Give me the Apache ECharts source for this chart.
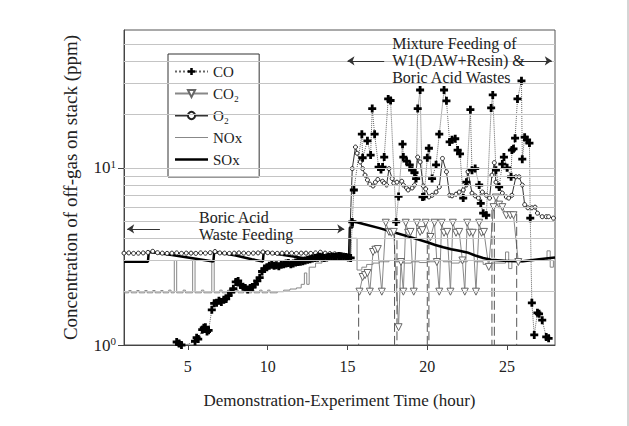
<!DOCTYPE html>
<html>
<head>
<meta charset="utf-8">
<script src="https://cdn.jsdelivr.net/npm/echarts@6/dist/echarts.min.js"></script>
<style>
html, body { margin: 0; padding: 0; background: #fff; }
#offgas_echarts { width: 629px; height: 426px; }
</style>
</head>
<body>
<div id="offgas_echarts"></div>
<script>
// [hour, ppm]
var coData = [
  [4.3,1.04],[4.45,1.02],[4.6,1.0],[4.75,0.99],
  [5.45,1.05],[5.55,1.1],[5.65,1.08],
  [5.9,1.22],[6.0,1.25],[6.1,1.26],[6.2,1.19],[6.3,1.21],
  [6.5,1.58],[6.65,1.72],[6.8,1.73],[6.95,1.78],[7.1,1.75],[7.25,1.8],[7.4,1.82],[7.55,1.9],
  [7.7,1.99],[7.85,2.08],[8.0,2.27],[8.15,2.3],[8.3,2.18],[8.45,2.13],[8.6,2.1],[8.75,2.06],
  [8.9,2.1],[9.05,2.12],[9.2,2.2],[9.35,2.3],[9.5,2.4],[9.65,2.6],[9.8,2.7],[9.95,2.75],
  [10.1,2.8],[10.25,2.84],[10.4,2.8],[10.55,2.82],[10.7,2.78],[10.85,2.84],[11.0,2.86],
  [11.15,2.88],[11.3,2.9],[11.45,2.86],[11.6,2.88],[11.75,2.92],[11.9,2.94],[12.05,2.95],
  [12.2,2.97],[12.35,3.0],[12.5,3.03],[12.65,3.05],[12.8,3.08],[12.95,3.1],[13.1,3.12],
  [13.25,3.15],[13.4,3.12],[13.55,3.1],[13.7,3.12],[13.85,3.14],[14.0,3.16],[14.15,3.14],
  [14.3,3.16],[14.45,3.18],[14.6,3.17],[14.75,3.15],[14.9,3.14],[15.05,3.12],[15.2,3.1],
  [15.3,4.95],[15.4,7.5],[15.9,15.5],[15.95,11.4],[16.25,14.2],[16.45,11.8],[16.55,21.6],
  [16.7,15.5],[16.95,10.1],[17.1,9.8],[17.2,10.1],[17.3,11.5],[17.55,24.5],[17.7,24.0],
  [18.05,4.95],[18.2,6.9],[18.45,13.6],[18.5,11.5],[18.7,10.9],[18.9,10.4],[19.05,9.7],
  [19.2,9.4],[19.3,8.7],[19.4,21.6],[19.55,27.5],[19.7,6.85],[19.8,6.9],[20.0,11.4],
  [20.1,12.9],[20.3,8.7],[20.55,10.4],[20.75,15.5],[21.05,27.5],[21.2,23.9],[21.4,14.0],
  [21.55,14.4],[21.75,14.6],[21.9,12.6],[22.05,12.0],[22.25,6.75],[22.45,8.3],[22.7,21.3],
  [22.8,9.7],[23.0,9.9],[23.25,8.0],[23.35,6.3],[23.5,5.55],[23.7,5.4],[24.0,21.8],
  [24.1,25.8],[24.3,9.7],[24.5,7.8],[24.7,10.5],[24.8,11.5],[25.0,10.0],[25.25,8.9],
  [25.3,12.6],[25.4,12.8],[25.5,14.7],[25.65,24.5],[25.9,31.0],[25.95,11.2],[26.1,14.9],
  [26.25,14.4],[26.4,13.8],[26.45,5.2],[26.55,1.73],[26.7,1.14],[26.9,1.52],[27.0,1.5],
  [27.2,1.38],[27.45,1.11],[27.6,1.09]
];

var co2Data = [
  [15.75,2.0],[15.95,2.42],[16.1,2.48],[16.25,2.55],[16.4,2.0],[16.6,3.35],[16.75,3.45],
  [16.9,3.48],[17.15,2.0],[17.4,4.9],[17.6,4.35],[17.75,4.3],[17.9,4.35],[18.2,1.26],
  [18.35,2.94],[18.5,2.0],[18.65,4.9],[18.8,4.3],[18.95,4.35],[19.15,2.0],[19.35,4.9],
  [19.55,4.35],[19.7,4.45],[19.9,4.9],[20.2,4.07],[20.45,4.9],[20.6,2.94],[20.75,2.0],
  [20.9,4.9],[21.05,4.3],[21.25,4.35],[21.45,2.0],[21.6,4.9],[21.8,4.3],[22.0,4.35],
  [22.2,3.0],[22.35,2.0],[22.5,4.9],[22.65,4.3],[22.85,4.3],[23.05,2.0],[23.25,4.9],
  [23.4,4.3],[23.55,4.35],[23.85,2.76],[24.15,6.0],[24.3,6.8],[24.5,6.2],[24.7,6.0],
  [24.95,5.4],[25.2,5.4],[25.4,5.4],[25.7,2.94]
];

// CO2 readings that fall off the bottom of the scale
var co2DropHours = [15.7, 17.95, 18.1, 20.0, 20.1, 24.05, 24.2, 25.6];
var co2DropFrom = [2.0, 4.35, 3.9, 4.35, 3.9, 5.8, 5.8, 5.5];
var co2DropTo = 0.5;

var o2Data = [
  [1.0,3.3],[1.3,3.31],[1.6,3.29],[1.9,3.3],[2.2,3.31],[2.5,3.33],[2.8,3.38],[3.1,3.32],
  [3.4,3.3],[3.7,3.29],[4.0,3.3],[4.3,3.31],[4.6,3.29],[4.9,3.3],[5.2,3.3],[5.5,3.29],
  [5.8,3.31],[6.1,3.3],[6.4,3.32],[6.7,3.37],[7.0,3.31],[7.3,3.3],[7.6,3.29],[7.9,3.3],
  [8.2,3.31],[8.5,3.3],[8.8,3.29],[9.1,3.3],[9.4,3.31],[9.7,3.35],[10.0,3.32],[10.3,3.3],
  [10.6,3.29],[10.9,3.3],[11.2,3.31],[11.5,3.3],[11.8,3.29],[12.1,3.3],[12.4,3.3],
  [12.7,3.29],[13.0,3.31],[13.3,3.34],[13.6,3.3],[13.9,3.28],[14.2,3.27],[14.5,3.24],
  [14.8,3.18],[15.1,3.14],
  [15.3,9.9],[15.5,13.1],[15.6,12.1],[15.8,10.8],[15.95,9.9],[16.1,9.1],[16.25,8.55],
  [16.4,8.1],[16.6,7.9],[16.75,8.3],[16.9,8.6],[17.2,8.4],[17.3,8.2],[17.45,8.0],
  [17.6,9.9],[17.8,8.7],[17.9,8.2],[18.1,8.3],[18.4,8.4],[18.5,8.0],[18.7,7.7],[18.8,7.5],
  [19.05,7.7],[19.2,8.0],[19.4,11.5],[19.55,10.8],[19.75,7.9],[19.9,7.6],[20.1,6.85],
  [20.3,7.0],[20.55,7.3],[20.75,7.8],[20.95,11.3],[21.2,9.5],[21.4,7.0],[21.55,6.95],
  [21.8,7.1],[22.0,7.3],[22.25,7.5],[22.45,8.0],[22.55,9.5],[22.8,7.2],[23.0,6.95],
  [23.2,6.75],[23.45,7.3],[23.7,7.0],[23.9,6.75],[24.05,9.1],[24.2,10.7],[24.3,8.3],
  [24.5,7.8],[24.7,7.2],[24.95,6.85],[25.1,6.75],[25.3,7.0],[25.55,8.9],[25.75,8.9],
  [25.95,8.0],[26.1,6.2],[26.3,5.95],[26.55,5.95],[26.75,6.0],[26.9,5.55],[27.2,5.3],
  [27.45,5.3],[27.6,5.3],[27.9,5.2]
];

// step line: each value holds until the next hour
var noxData = [
  [1.0,1.97],[1.3,2.03],[1.45,1.97],[1.8,2.03],[1.95,1.97],[2.3,2.03],[2.45,1.97],
  [2.8,2.03],[2.95,1.97],[3.3,2.03],[3.45,1.97],[3.8,2.04],[3.95,1.97],[4.15,3.0],
  [4.3,1.97],[4.7,2.04],[4.85,1.97],[5.3,3.0],[5.45,1.97],[5.85,2.04],[6.0,1.97],
  [6.5,3.0],[6.65,1.97],[7.0,2.04],[7.15,1.97],[7.5,2.04],[7.65,1.97],[8.0,2.04],
  [8.15,1.97],[8.5,2.04],[8.65,1.97],[9.0,2.04],[9.15,1.97],[9.5,2.04],[9.65,1.97],
  [10.0,2.04],[10.15,1.97],[10.6,2.0],[11.0,2.04],[11.4,2.07],[11.8,2.1],[12.1,2.2],
  [12.3,2.55],[12.45,2.2],[12.6,2.75],[13.0,2.9],[13.4,3.0],[13.8,3.05],[14.3,3.1],
  [14.8,3.12],[15.2,4.0],[15.6,2.65],[15.9,2.75],[16.2,2.85],[16.6,2.9],[17.0,2.95],
  [17.6,3.0],[18.0,2.95],[18.5,2.9],[19.0,2.95],[19.5,2.92],[20.0,2.95],[20.5,3.0],
  [21.0,2.95],[21.5,2.9],[22.0,2.95],[22.5,3.0],[23.0,2.95],[23.5,2.85],[24.0,2.9],
  [24.9,3.35],[25.1,2.7],[25.3,2.95],[26.0,3.0],[27.5,3.4],[27.7,2.75],[27.9,3.0],[28.0,3.0]
];

var soxData = [
  [1,2.95],[2.5,2.95],[2.55,3.35],[3,3.32],[4,3.22],[5,3.12],[6,3.02],[6.6,2.96],
  [6.65,3.35],[7,3.32],[8,3.2],[9,3.05],[9.7,2.96],[9.75,3.35],[10.5,3.27],[11.5,3.17],
  [12.5,3.07],[13.2,3.0],[13.25,3.3],[14,3.22],[15,3.12],[15.1,3.1],[15.15,4.6],
  [15.3,4.6],[15.35,5.0],[16,4.82],[17,4.57],[18,4.3],[19,4.05],[20,3.8],[20.5,3.67],
  [21,3.56],[21.5,3.47],[22,3.4],[22.5,3.33],[23,3.2],[23.5,3.1],[24,3.03],[25,2.98],
  [26,2.97],[27,3.05],[28,3.12]
];

var seriesNames = ["CO", "CO\u2082", "O\u2082", "NOx", "SOx"];
var xTicks = [5, 10, 15, 20, 25];
var yTicks = [1, 10];
var gridValues = [2, 3, 4, 5, 6, 7, 8, 9, 10, 20, 30, 40, 50];

var FONT = "Liberation Serif";
var plusPath = "path://M2.6,0H5.4V2.6H8V5.4H5.4V8H2.6V5.4H0V2.6H2.6Z";
// key icons for the plain lines (thin / thick bar)
var legendIcons = {
  NOx: "path://M0,0H100V3H0Z",
  SOx: "path://M0,0H100V8H0Z",
};

var co2Drops = [];
co2DropHours.forEach(function (h, i) {
  co2Drops.push([h, co2DropFrom[i]], [h, co2DropTo], [h, null]);
});

var charts = echarts.init(document.getElementById("offgas_echarts"), null, {
  renderer: "svg",
});

charts.setOption({
  animation: false,
  graphic: [
    { type: "line", shape: { x1: 628, y1: 0, x2: 628, y2: 426 }, style: { stroke: "#aaa", lineWidth: 1 } },
  ],
  grid: {
    left: 124, right: 74, top: 30, bottom: 81,
    show: true, borderColor: "#555", borderWidth: 1,
    outerBoundsMode: "none",
  },
  legend: {
    data: seriesNames.map(function (n) {
      return legendIcons[n] ? { name: n, icon: legendIcons[n] } : { name: n };
    }),
    orient: "vertical",
    left: 168, top: 54,
    padding: [10, 17, 10, 6],
    itemGap: 7, itemWidth: 33, itemHeight: 9,
    symbolKeepAspect: true,
    backgroundColor: "#fff", borderColor: "#333", borderWidth: 1,
    selectedMode: false,
    textStyle: { fontFamily: FONT, fontSize: 15, color: "#222" },
  },
  xAxis: {
    type: "value", min: 1, max: 28,
    axisLine: { lineStyle: { color: "#444" } },
    axisTick: { customValues: xTicks, length: 5, lineStyle: { color: "#444" } },
    axisLabel: { customValues: xTicks, fontFamily: FONT, fontSize: 16, color: "#222", margin: 13 },
    splitLine: { show: false },
    name: "Demonstration-Experiment Time (hour)",
    nameLocation: "middle", nameGap: 47,
    nameTextStyle: { fontFamily: FONT, fontSize: 17, color: "#222" },
  },
  yAxis: {
    type: "log", logBase: 10, min: 1, max: 60,
    axisLine: { show: true, lineStyle: { color: "#444" } },
    axisTick: { show: true, customValues: yTicks, length: 6, lineStyle: { color: "#444" } },
    axisLabel: {
      customValues: yTicks,
      formatter: function (v) {
        return "10{sup|" + Math.round(Math.log10(v)) + "}";
      },
      fontFamily: FONT, fontSize: 17, color: "#222", margin: 8,
      rich: { sup: { fontFamily: FONT, fontSize: 11, color: "#222", padding: [0, 0, 8, 0] } },
    },
    splitLine: { show: false },
    name: "Concentration of off-gas on stack (ppm)",
    nameLocation: "middle", nameGap: 44,
    nameTextStyle: { fontFamily: FONT, fontSize: 19, color: "#222" },
  },
  series: [
    {
      name: "grid",
      type: "line",
      z: 1,
      data: [],
      markLine: {
        silent: true, symbol: ["none", "none"],
        label: { show: false },
        lineStyle: { color: "#c4c4c4", width: 1, type: "solid" },
        data: gridValues.map(function (v) { return { yAxis: v }; }),
      },
    },
    {
      name: "annot",
      type: "line",
      z: 3,
      data: [],
      markLine: {
        silent: true, symbol: ["none", "arrow"], symbolSize: 7,
        label: { show: false },
        lineStyle: { color: "#333", width: 1, type: "solid" },
        data: [
          [{ coord: [3.25, 4.52] }, { coord: [1.2, 4.52] }],
          [{ coord: [12.0, 4.52] }, { coord: [14.8, 4.52] }],
          [{ coord: [17.3, 40.2] }, { coord: [15.0, 40.2] }],
          [{ coord: [25.6, 40.2] }, { coord: [27.8, 40.2] }],
        ],
      },
      markPoint: {
        silent: true, symbol: "circle", symbolSize: 0,
        label: {
          show: true, position: "right", distance: 0,
          fontFamily: FONT, fontSize: 16, lineHeight: 17, color: "#222",
          formatter: function (p) { return p.name; },
        },
        data: [
          { name: "Boric Acid\nWaste Feeding", coord: [5.7, 4.67] },
          { name: "Mixture Feeding of\nW1(DAW+Resin) &\nBoric Acid Wastes", coord: [17.8, 40.2] },
        ],
      },
    },
    {
      name: "CO\u2082", type: "line", z: 2, data: co2Data,
      symbol: "triangle", symbolRotate: 180, symbolSize: 7, showAllSymbol: true,
      lineStyle: { color: "#888", width: 1 },
      itemStyle: { color: "#fff", borderColor: "#666", borderWidth: 1 },
    },
    {
      name: "CO\u2082", type: "line", z: 2, data: co2Drops,
      symbol: "none", connectNulls: false,
      lineStyle: { color: "#555", width: 1, type: [9, 4] },
    },
    {
      name: "NOx", type: "line", z: 2, data: noxData, step: "end",
      symbol: "none", lineStyle: { color: "#888", width: 1 },
      itemStyle: { color: "#888" },
    },
    {
      name: "SOx", type: "line", z: 2, data: soxData,
      symbol: "none", lineStyle: { color: "#000", width: 2.5 },
      itemStyle: { color: "#000" },
    },
    {
      name: "O\u2082", type: "line", z: 2, data: o2Data,
      symbol: "circle", symbolSize: 4, showAllSymbol: true,
      lineStyle: { color: "#333", width: 1 },
      itemStyle: { color: "#fff", borderColor: "#222", borderWidth: 1 },
    },
    {
      name: "CO", type: "line", z: 2, data: coData,
      symbol: plusPath, symbolSize: 8, showAllSymbol: true,
      lineStyle: { color: "#666", width: 1, type: "dotted" },
      itemStyle: { color: "#000" },
    },
  ],
});
</script>
</body>
</html>
